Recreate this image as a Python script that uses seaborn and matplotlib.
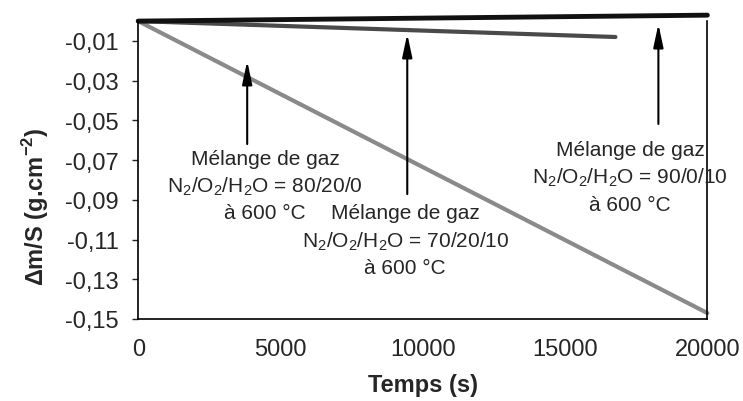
import numpy as np
import pandas as pd
import seaborn as sns
import matplotlib.pyplot as plt

sns.set_style("white")
plt.rcParams['font.family'] = ['Liberation Sans', 'DejaVu Sans']
plt.rcParams['mathtext.fontset'] = 'custom'
plt.rcParams['mathtext.rm'] = 'Liberation Sans'
plt.rcParams['mathtext.bf'] = 'Liberation Sans:bold'

# Data (time in s, mass gain per surface in g/cm2)
time_80_20_0 = [0, 20000]
dm_80_20_0 = [0.0, -0.147]
time_70_20_10 = [0, 16770]
dm_70_20_10 = [0.0, -0.0080]
time_90_0_10 = [0, 20000]
dm_90_0_10 = [0.0, 0.0030]

y_ticks = [-0.01, -0.03, -0.05, -0.07, -0.09, -0.11, -0.13, -0.15]
y_tick_labels = ["-0,01", "-0,03", "-0,05", "-0,07", "-0,09", "-0,11", "-0,13", "-0,15"]
x_ticks = [0, 5000, 10000, 15000, 20000]
x_tick_labels = ["0", "5000", "10000", "15000", "20000"]

fig = plt.figure(figsize=(7.43, 4.02), dpi=100)
ax = fig.add_axes([0.186, 0.204, 0.766, 0.741])

sns.lineplot(x=time_80_20_0, y=dm_80_20_0, ax=ax, color="#8a8a8a", lw=3, clip_on=False)
sns.lineplot(x=time_70_20_10, y=dm_70_20_10, ax=ax, color="#4a4a4a", lw=3, clip_on=False)
sns.lineplot(x=time_90_0_10, y=dm_90_0_10, ax=ax, color="#111111", lw=3.5, clip_on=False)

ax.set_xlim(0, 20000)
ax.set_ylim(-0.15, 0.0)
ax.set_yticks(y_ticks)
ax.set_yticklabels(y_tick_labels)
ax.set_xticks(x_ticks)
ax.set_xticklabels(x_tick_labels)
ax.tick_params(axis='y', length=4, width=1, direction='out', left=True, labelsize=17, pad=10)
ax.tick_params(axis='x', length=0, labelsize=17, pad=14)

for side in ['left', 'bottom', 'right']:
    ax.spines[side].set_color('black')
    ax.spines[side].set_linewidth(1.2)
ax.spines['top'].set_visible(False)

ax.set_xlabel("Temps (s)", fontsize=17, fontweight='bold', labelpad=9)
ax.set_ylabel("Δm/S (g.cm$^{\\mathbf{-2}}$)", fontsize=17, fontweight='bold', va='center')
ax.yaxis.set_label_coords(-0.181, 0.38)

arrow = dict(arrowstyle='-|>,head_length=1.4,head_width=0.3', lw=1.5, color='black',
             shrinkA=0, shrinkB=0)
ax.annotate("", xy=(3830, -0.0201), xytext=(3830, -0.0619), arrowprops=arrow, annotation_clip=False)
ax.annotate("", xy=(9455, -0.0065), xytext=(9455, -0.0871), arrowprops=arrow, annotation_clip=False)
ax.annotate("", xy=(18280, -0.0015), xytext=(18280, -0.0518), arrowprops=arrow, annotation_clip=False)

labels = [
    (4465, [-0.0694, -0.0830, -0.0966], "80/20/0"),
    (9385, [-0.0966, -0.1107, -0.1243], "70/20/10"),
    (17293, [-0.0644, -0.0785, -0.0921], "90/0/10"),
]
for x, ys, comp in labels:
    ax.text(x, ys[0], "Mélange de gaz", ha='center', va='center', fontsize=15)
    ax.text(x, ys[1], "N$_2$/O$_2$/H$_2$O = " + comp, ha='center', va='center', fontsize=15)
    ax.text(x, ys[2], "à 600 °C", ha='center', va='center', fontsize=15)

fig.savefig("out.png", dpi=100)
